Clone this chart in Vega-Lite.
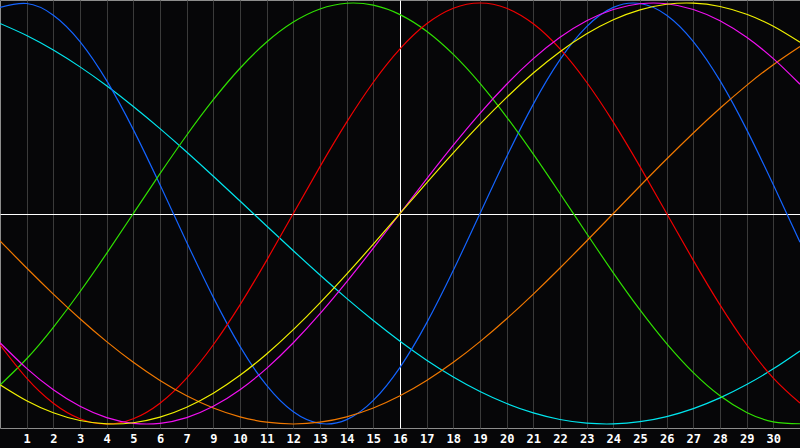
{
  "$schema": "https://vega.github.io/schema/vega-lite/v6.json",
  "width": 800,
  "height": 428,
  "autosize": {"type": "none"},
  "padding": {"left": 0, "top": 0, "right": 0, "bottom": 20},
  "background": "#060608",
  "config": {"view": {"stroke": "#8c8c8c", "strokeWidth": 1, "fill": "#060608"}},
  "data": {"values": [
    {"t":0,"s":"Spiritual","v":0.9028},{"t":1,"s":"Spiritual","v":0.8456},{"t":2,"s":"Spiritual","v":0.7765},{"t":3,"s":"Spiritual","v":0.6966},{"t":4,"s":"Spiritual","v":0.6068},{"t":5,"s":"Spiritual","v":0.5085},{"t":6,"s":"Spiritual","v":0.4031},{"t":7,"s":"Spiritual","v":0.2921},{"t":8,"s":"Spiritual","v":0.1769},{"t":9,"s":"Spiritual","v":0.0592},{"t":10,"s":"Spiritual","v":-0.0592},{"t":11,"s":"Spiritual","v":-0.1769},{"t":12,"s":"Spiritual","v":-0.2921},{"t":13,"s":"Spiritual","v":-0.4031},{"t":14,"s":"Spiritual","v":-0.5085},{"t":15,"s":"Spiritual","v":-0.6068},{"t":16,"s":"Spiritual","v":-0.6966},{"t":17,"s":"Spiritual","v":-0.7765},{"t":18,"s":"Spiritual","v":-0.8456},{"t":19,"s":"Spiritual","v":-0.9028},{"t":20,"s":"Spiritual","v":-0.9473},{"t":21,"s":"Spiritual","v":-0.9786},{"t":22,"s":"Spiritual","v":-0.9961},{"t":23,"s":"Spiritual","v":-0.9996},{"t":24,"s":"Spiritual","v":-0.989},{"t":25,"s":"Spiritual","v":-0.9646},{"t":26,"s":"Spiritual","v":-0.9267},{"t":27,"s":"Spiritual","v":-0.8757},{"t":28,"s":"Spiritual","v":-0.8125},{"t":29,"s":"Spiritual","v":-0.7378},{"t":30,"s":"Spiritual","v":-0.6528},
    {"t":0,"s":"Physical","v":0.9791},{"t":1,"s":"Physical","v":0.9977},{"t":2,"s":"Physical","v":0.9423},{"t":3,"s":"Physical","v":0.817},{"t":4,"s":"Physical","v":0.6311},{"t":5,"s":"Physical","v":0.3984},{"t":6,"s":"Physical","v":0.1362},{"t":7,"s":"Physical","v":-0.1362},{"t":8,"s":"Physical","v":-0.3984},{"t":9,"s":"Physical","v":-0.6311},{"t":10,"s":"Physical","v":-0.817},{"t":11,"s":"Physical","v":-0.9423},{"t":12,"s":"Physical","v":-0.9977},{"t":13,"s":"Physical","v":-0.9791},{"t":14,"s":"Physical","v":-0.8879},{"t":15,"s":"Physical","v":-0.7308},{"t":16,"s":"Physical","v":-0.5196},{"t":17,"s":"Physical","v":-0.2698},{"t":18,"s":"Physical","v":0},{"t":19,"s":"Physical","v":0.2698},{"t":20,"s":"Physical","v":0.5196},{"t":21,"s":"Physical","v":0.7308},{"t":22,"s":"Physical","v":0.8879},{"t":23,"s":"Physical","v":0.9791},{"t":24,"s":"Physical","v":0.9977},{"t":25,"s":"Physical","v":0.9423},{"t":26,"s":"Physical","v":0.817},{"t":27,"s":"Physical","v":0.6311},{"t":28,"s":"Physical","v":0.3984},{"t":29,"s":"Physical","v":0.1362},{"t":30,"s":"Physical","v":-0.1362},
    {"t":0,"s":"Intellectual","v":-0.8146},{"t":1,"s":"Intellectual","v":-0.6901},{"t":2,"s":"Intellectual","v":-0.5406},{"t":3,"s":"Intellectual","v":-0.3717},{"t":4,"s":"Intellectual","v":-0.1893},{"t":5,"s":"Intellectual","v":0},{"t":6,"s":"Intellectual","v":0.1893},{"t":7,"s":"Intellectual","v":0.3717},{"t":8,"s":"Intellectual","v":0.5406},{"t":9,"s":"Intellectual","v":0.6901},{"t":10,"s":"Intellectual","v":0.8146},{"t":11,"s":"Intellectual","v":0.9096},{"t":12,"s":"Intellectual","v":0.9718},{"t":13,"s":"Intellectual","v":0.9989},{"t":14,"s":"Intellectual","v":0.9898},{"t":15,"s":"Intellectual","v":0.945},{"t":16,"s":"Intellectual","v":0.866},{"t":17,"s":"Intellectual","v":0.7558},{"t":18,"s":"Intellectual","v":0.6182},{"t":19,"s":"Intellectual","v":0.4582},{"t":20,"s":"Intellectual","v":0.2817},{"t":21,"s":"Intellectual","v":0.0951},{"t":22,"s":"Intellectual","v":-0.0951},{"t":23,"s":"Intellectual","v":-0.2817},{"t":24,"s":"Intellectual","v":-0.4582},{"t":25,"s":"Intellectual","v":-0.6182},{"t":26,"s":"Intellectual","v":-0.7558},{"t":27,"s":"Intellectual","v":-0.866},{"t":28,"s":"Intellectual","v":-0.945},{"t":29,"s":"Intellectual","v":-0.9898},{"t":30,"s":"Intellectual","v":-0.9989},
    {"t":0,"s":"Emotional","v":-0.6235},{"t":1,"s":"Emotional","v":-0.7818},{"t":2,"s":"Emotional","v":-0.901},{"t":3,"s":"Emotional","v":-0.9749},{"t":4,"s":"Emotional","v":-1},{"t":5,"s":"Emotional","v":-0.9749},{"t":6,"s":"Emotional","v":-0.901},{"t":7,"s":"Emotional","v":-0.7818},{"t":8,"s":"Emotional","v":-0.6235},{"t":9,"s":"Emotional","v":-0.4339},{"t":10,"s":"Emotional","v":-0.2225},{"t":11,"s":"Emotional","v":0},{"t":12,"s":"Emotional","v":0.2225},{"t":13,"s":"Emotional","v":0.4339},{"t":14,"s":"Emotional","v":0.6235},{"t":15,"s":"Emotional","v":0.7818},{"t":16,"s":"Emotional","v":0.901},{"t":17,"s":"Emotional","v":0.9749},{"t":18,"s":"Emotional","v":1},{"t":19,"s":"Emotional","v":0.9749},{"t":20,"s":"Emotional","v":0.901},{"t":21,"s":"Emotional","v":0.7818},{"t":22,"s":"Emotional","v":0.6235},{"t":23,"s":"Emotional","v":0.4339},{"t":24,"s":"Emotional","v":0.2225},{"t":25,"s":"Emotional","v":0},{"t":26,"s":"Emotional","v":-0.2225},{"t":27,"s":"Emotional","v":-0.4339},{"t":28,"s":"Emotional","v":-0.6235},{"t":29,"s":"Emotional","v":-0.7818},{"t":30,"s":"Emotional","v":-0.901},
    {"t":0,"s":"Awareness","v":-0.1305},{"t":1,"s":"Awareness","v":-0.2588},{"t":2,"s":"Awareness","v":-0.3827},{"t":3,"s":"Awareness","v":-0.5},{"t":4,"s":"Awareness","v":-0.6088},{"t":5,"s":"Awareness","v":-0.7071},{"t":6,"s":"Awareness","v":-0.7934},{"t":7,"s":"Awareness","v":-0.866},{"t":8,"s":"Awareness","v":-0.9239},{"t":9,"s":"Awareness","v":-0.9659},{"t":10,"s":"Awareness","v":-0.9914},{"t":11,"s":"Awareness","v":-1},{"t":12,"s":"Awareness","v":-0.9914},{"t":13,"s":"Awareness","v":-0.9659},{"t":14,"s":"Awareness","v":-0.9239},{"t":15,"s":"Awareness","v":-0.866},{"t":16,"s":"Awareness","v":-0.7934},{"t":17,"s":"Awareness","v":-0.7071},{"t":18,"s":"Awareness","v":-0.6088},{"t":19,"s":"Awareness","v":-0.5},{"t":20,"s":"Awareness","v":-0.3827},{"t":21,"s":"Awareness","v":-0.2588},{"t":22,"s":"Awareness","v":-0.1305},{"t":23,"s":"Awareness","v":0},{"t":24,"s":"Awareness","v":0.1305},{"t":25,"s":"Awareness","v":0.2588},{"t":26,"s":"Awareness","v":0.3827},{"t":27,"s":"Awareness","v":0.5},{"t":28,"s":"Awareness","v":0.6088},{"t":29,"s":"Awareness","v":0.7071},{"t":30,"s":"Awareness","v":0.7934},
    {"t":0,"s":"Intuitive","v":-0.6142},{"t":1,"s":"Intuitive","v":-0.7357},{"t":2,"s":"Intuitive","v":-0.8372},{"t":3,"s":"Intuitive","v":-0.9158},{"t":4,"s":"Intuitive","v":-0.9694},{"t":5,"s":"Intuitive","v":-0.9966},{"t":6,"s":"Intuitive","v":-0.9966},{"t":7,"s":"Intuitive","v":-0.9694},{"t":8,"s":"Intuitive","v":-0.9158},{"t":9,"s":"Intuitive","v":-0.8372},{"t":10,"s":"Intuitive","v":-0.7357},{"t":11,"s":"Intuitive","v":-0.6142},{"t":12,"s":"Intuitive","v":-0.476},{"t":13,"s":"Intuitive","v":-0.3247},{"t":14,"s":"Intuitive","v":-0.1646},{"t":15,"s":"Intuitive","v":0},{"t":16,"s":"Intuitive","v":0.1646},{"t":17,"s":"Intuitive","v":0.3247},{"t":18,"s":"Intuitive","v":0.476},{"t":19,"s":"Intuitive","v":0.6142},{"t":20,"s":"Intuitive","v":0.7357},{"t":21,"s":"Intuitive","v":0.8372},{"t":22,"s":"Intuitive","v":0.9158},{"t":23,"s":"Intuitive","v":0.9694},{"t":24,"s":"Intuitive","v":0.9966},{"t":25,"s":"Intuitive","v":0.9966},{"t":26,"s":"Intuitive","v":0.9694},{"t":27,"s":"Intuitive","v":0.9158},{"t":28,"s":"Intuitive","v":0.8372},{"t":29,"s":"Intuitive","v":0.7357},{"t":30,"s":"Intuitive","v":0.6142},
    {"t":0,"s":"Aesthetic","v":-0.8133},{"t":1,"s":"Aesthetic","v":-0.8893},{"t":2,"s":"Aesthetic","v":-0.9464},{"t":3,"s":"Aesthetic","v":-0.9834},{"t":4,"s":"Aesthetic","v":-0.9993},{"t":5,"s":"Aesthetic","v":-0.994},{"t":6,"s":"Aesthetic","v":-0.9675},{"t":7,"s":"Aesthetic","v":-0.9204},{"t":8,"s":"Aesthetic","v":-0.8536},{"t":9,"s":"Aesthetic","v":-0.7687},{"t":10,"s":"Aesthetic","v":-0.6673},{"t":11,"s":"Aesthetic","v":-0.5518},{"t":12,"s":"Aesthetic","v":-0.4245},{"t":13,"s":"Aesthetic","v":-0.2881},{"t":14,"s":"Aesthetic","v":-0.1456},{"t":15,"s":"Aesthetic","v":0},{"t":16,"s":"Aesthetic","v":0.1456},{"t":17,"s":"Aesthetic","v":0.2881},{"t":18,"s":"Aesthetic","v":0.4245},{"t":19,"s":"Aesthetic","v":0.5518},{"t":20,"s":"Aesthetic","v":0.6673},{"t":21,"s":"Aesthetic","v":0.7687},{"t":22,"s":"Aesthetic","v":0.8536},{"t":23,"s":"Aesthetic","v":0.9204},{"t":24,"s":"Aesthetic","v":0.9675},{"t":25,"s":"Aesthetic","v":0.994},{"t":26,"s":"Aesthetic","v":0.9993},{"t":27,"s":"Aesthetic","v":0.9834},{"t":28,"s":"Aesthetic","v":0.9464},{"t":29,"s":"Aesthetic","v":0.8893},{"t":30,"s":"Aesthetic","v":0.8133}
  ]},
  "mark": {"type": "line", "interpolate": "natural", "strokeWidth": 1.2, "clip": true},
  "encoding": {
    "x": {
      "field": "t", "type": "quantitative",
      "scale": {"domain": [0, 30], "nice": false, "zero": false},
      "axis": {
        "values": [1,2,3,4,5,6,7,8,9,10,11,12,13,14,15,16,17,18,19,20,21,22,23,24,25,26,27,28,29],
        "labelExpr": "datum.value < 8 ? datum.value + '\u00a0' : '' + (datum.value + 1)",
        "title": null, "domain": false, "ticks": false,
        "grid": true,
        "gridColor": {"condition": {"test": "datum.value === 15", "value": "#ffffff"}, "value": "#3a3a3a"},
        "gridWidth": 1,
        "labelColor": "#ffffff", "labelFont": "DejaVu Sans Mono", "labelFontWeight": "bold",
        "labelFontSize": 12, "labelPadding": 5, "labelFlush": false, "labelOverlap": false
      }
    },
    "y": {
      "field": "v", "type": "quantitative",
      "scale": {"domain": [-1.019, 1.0143], "nice": false, "zero": false},
      "axis": {
        "values": [0], "grid": true, "gridColor": "#ffffff", "gridWidth": 1,
        "labels": false, "ticks": false, "domain": false, "title": null
      }
    },
    "color": {
      "field": "s", "type": "nominal",
      "scale": {
        "domain": ["Spiritual", "Physical", "Intellectual", "Emotional", "Awareness", "Intuitive", "Aesthetic"],
        "range": ["#00e5ee", "#1464ff", "#2fe000", "#f00000", "#f07800", "#f010f0", "#f0f000"]
      },
      "legend": null
    }
  }
}
